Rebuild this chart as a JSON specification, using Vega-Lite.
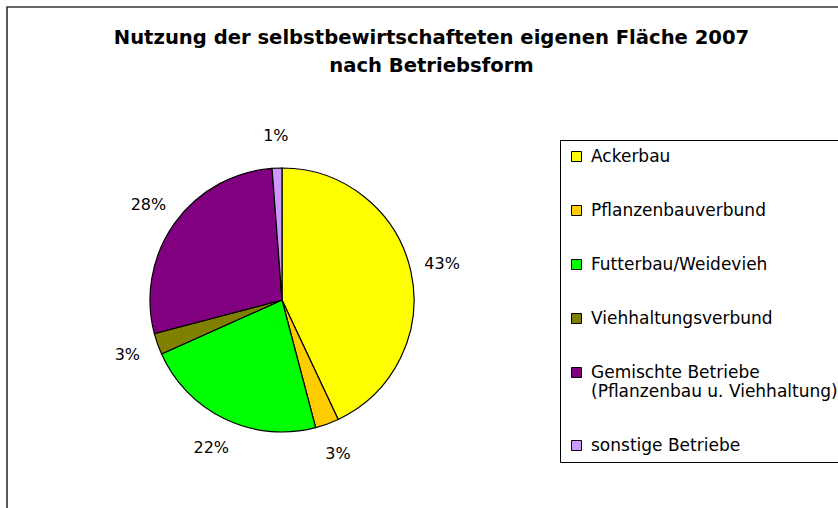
{
  "$schema": "https://vega.github.io/schema/vega-lite/v6.json",
  "autosize": "none",
  "padding": {"left": 7, "top": 7, "right": -10, "bottom": -10},
  "width": 841,
  "height": 511,
  "background": "white",
  "view": {"stroke": "#333333", "strokeWidth": 1.6, "fill": "white"},
  "title": {
    "text": ["Nutzung der selbstbewirtschafteten eigenen Fläche 2007", "nach Betriebsform"],
    "anchor": "middle",
    "dx": 4,
    "font": "DejaVu Sans",
    "fontSize": 19.6,
    "fontWeight": "bold",
    "color": "black",
    "lineHeight": 28,
    "offset": -70
  },
  "data": {
    "values": [
      {"o": 1, "name": "Ackerbau", "share": 0.430},
      {"o": 2, "name": "Pflanzenbauverbund", "share": 0.029},
      {"o": 3, "name": "Futterbau/Weidevieh", "share": 0.224},
      {"o": 4, "name": "Viehhaltungsverbund", "share": 0.026},
      {"o": 5, "name": "Gemischte Betriebe (Pflanzenbau u. Viehhaltung)", "share": 0.279},
      {"o": 6, "name": "sonstige Betriebe", "share": 0.012}
    ]
  },
  "encoding": {
    "theta": {"field": "share", "type": "quantitative", "stack": true},
    "order": {"field": "o", "type": "quantitative"}
  },
  "layer": [
    {
      "mark": {"type": "arc", "x": 275, "y": 293, "outerRadius": 132, "stroke": "black", "strokeWidth": 1.2},
      "encoding": {
        "color": {
          "field": "name",
          "type": "nominal",
          "sort": null,
          "scale": {
            "domain": ["Ackerbau", "Pflanzenbauverbund", "Futterbau/Weidevieh", "Viehhaltungsverbund", "Gemischte Betriebe (Pflanzenbau u. Viehhaltung)", "sonstige Betriebe"],
            "range": ["#FFFF00", "#FFCC00", "#00FF00", "#808000", "#800080", "#CC99FF"]
          },
          "legend": {
            "title": null,
            "orient": "none",
            "legendX": 553,
            "legendY": 133,
            "padding": 8,
            "strokeColor": "black",
            "fillColor": "white",
            "symbolType": "square",
            "symbolSize": 100,
            "symbolStrokeColor": "black",
            "symbolStrokeWidth": 1,
            "symbolOpacity": 1,
            "labelFont": "DejaVu Sans",
            "labelFontSize": 17,
            "labelColor": "black",
            "labelLimit": 400,
            "labelOffset": 6,
            "rowPadding": 36,
            "labelExpr": "datum.label == 'Gemischte Betriebe (Pflanzenbau u. Viehhaltung)' ? ['Gemischte Betriebe', '(Pflanzenbau u. Viehhaltung)'] : datum.label"
          }
        }
      }
    },
    {
      "mark": {"type": "text", "x": 275, "y": 293, "radius": 164, "font": "DejaVu Sans", "fontSize": 16, "color": "black"},
      "encoding": {
        "text": {"field": "share", "type": "quantitative", "format": ".0%"}
      }
    }
  ]
}
